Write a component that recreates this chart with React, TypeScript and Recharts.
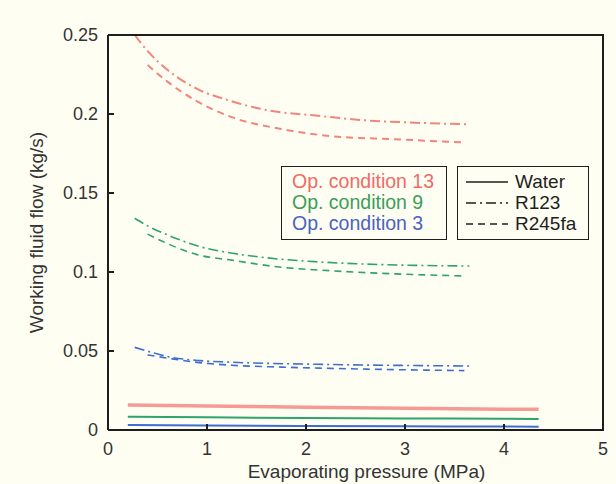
import { Line, LineChart, XAxis, YAxis } from "recharts";

// evaporating pressure (MPa) sampled per fluid
const P_WATER = [0.2, 1, 2, 3, 4, 4.35];
const P_R123 = [0.27, 0.42, 0.6, 0.93, 1.2, 1.6, 2.1, 2.6, 3.1, 3.65];
const P_R245FA = [0.4, 0.6, 0.9, 1.25, 1.75, 2.25, 2.9, 3.6];

// working fluid flow (kg/s)
const WATER_13 = [0.0158, 0.0152, 0.0144, 0.0137, 0.0132, 0.0131];
const WATER_9 = [0.0084, 0.008, 0.0076, 0.0073, 0.0071, 0.007];
const WATER_3 = [0.0032, 0.0028, 0.0025, 0.0023, 0.0022, 0.0021];

const R123_13 = [0.25, 0.2385, 0.228, 0.215, 0.209, 0.2025, 0.199, 0.196, 0.1945, 0.1935];
const R123_9 = [0.134, 0.1285, 0.1235, 0.116, 0.1125, 0.109, 0.1065, 0.105, 0.1042, 0.1038];
const R123_3 = [0.0523, 0.0495, 0.0465, 0.0439, 0.043, 0.0422, 0.0416, 0.0411, 0.0408, 0.0405];

const R245FA_13 = [0.231, 0.2205, 0.208, 0.198, 0.1905, 0.186, 0.184, 0.182];
const R245FA_9 = [0.124, 0.118, 0.111, 0.1075, 0.103, 0.1008, 0.0988, 0.0975];
const R245FA_3 = [0.0475, 0.0455, 0.0428, 0.041, 0.0398, 0.039, 0.0382, 0.0376];

const X_TICKS = [0, 1, 2, 3, 4, 5];
const Y_TICKS = [0, 0.05, 0.1, 0.15, 0.2, 0.25];

const CONDITIONS = ["Op. condition 13", "Op. condition 9", "Op. condition 3"];
const FLUIDS = ["Water", "R123", "R245fa"];

const RED = "#f3847d";
const GREEN = "#2ea36c";
const BLUE = "#3f6dd2";
const TEXT_COLORS = ["#f06a66", "#3a9e5a", "#4a62c4"];

const DASH_R123 = "10 4 2 4";
const DASH_R245FA = "7 5";
const DASHES = [undefined, DASH_R123, DASH_R245FA];

const FONT = "'Liberation Sans', Arial, sans-serif";
const INK = "#1e1e1e";
const LABEL = "#333";

const toRows = (xs: number[], ys: number[]) => xs.map((p, i) => ({ p, f: ys[i] }));

const series = [
  { id: "w13", data: toRows(P_WATER, WATER_13), color: "#f69b93", width: 3.5, dash: "0" },
  { id: "w9", data: toRows(P_WATER, WATER_9), color: GREEN, width: 2, dash: "0" },
  { id: "w3", data: toRows(P_WATER, WATER_3), color: BLUE, width: 2, dash: "0" },
  { id: "a13", data: toRows(P_R123, R123_13), color: RED, width: 2, dash: DASH_R123 },
  { id: "a9", data: toRows(P_R123, R123_9), color: GREEN, width: 1.6, dash: DASH_R123 },
  { id: "a3", data: toRows(P_R123, R123_3), color: BLUE, width: 1.6, dash: DASH_R123 },
  { id: "b13", data: toRows(P_R245FA, R245FA_13), color: RED, width: 2, dash: DASH_R245FA },
  { id: "b9", data: toRows(P_R245FA, R245FA_9), color: GREEN, width: 1.6, dash: DASH_R245FA },
  { id: "b3", data: toRows(P_R245FA, R245FA_3), color: BLUE, width: 1.6, dash: DASH_R245FA },
];

const tickFont = { fontSize: 18, fill: LABEL, fontFamily: FONT };

export default function App() {
  return (
    <div style={{ position: "absolute", left: 0, top: 0, width: 616, height: 484, background: "#fffef3" }}>
      <LineChart width={616} height={484} margin={{ top: 35, right: 13, bottom: 0, left: 0 }}>
        <XAxis
          dataKey="p"
          type="number"
          domain={[0, 5]}
          ticks={X_TICKS}
          height={54}
          stroke={INK}
          strokeWidth={2}
          tickSize={-6}
          tickMargin={18}
          tick={tickFont}
          label={{
            value: "Evaporating pressure (MPa)",
            position: "insideBottom",
            offset: 6,
            dx: 11,
            style: { fontSize: 19, fill: LABEL, fontFamily: FONT },
          }}
        />
        <YAxis
          type="number"
          domain={[0, 0.25]}
          ticks={Y_TICKS}
          width={108}
          stroke={INK}
          strokeWidth={2}
          tickSize={-6}
          tickMargin={16}
          tick={tickFont}
          label={{
            value: "Working fluid flow (kg/s)",
            angle: -90,
            position: "insideLeft",
            offset: 36,
            style: { fontSize: 19, fill: LABEL, fontFamily: FONT, textAnchor: "middle" },
          }}
        />
        {series.map((s) => (
          <Line
            key={s.id}
            data={s.data}
            dataKey="f"
            type="monotone"
            stroke={s.color}
            strokeWidth={s.width}
            strokeDasharray={s.dash}
            dot={false}
            activeDot={false}
            isAnimationActive={false}
          />
        ))}
      </LineChart>

      {/* top and right edges of the plot frame */}
      <div
        style={{
          position: "absolute",
          left: 108,
          top: 34,
          width: 496,
          height: 397,
          borderTop: `2px solid ${INK}`,
          borderRight: `2px solid ${INK}`,
          boxSizing: "border-box",
          pointerEvents: "none",
        }}
      />

      <div
        style={{
          position: "absolute",
          left: 281,
          top: 166,
          width: 166,
          height: 74,
          border: `1.5px solid ${INK}`,
          padding: "4px 0 0 10px",
          boxSizing: "border-box",
          fontFamily: FONT,
        }}
      >
        {CONDITIONS.map((c, i) => (
          <div key={c} style={{ color: TEXT_COLORS[i], fontSize: 19.5, lineHeight: "21px" }}>
            {c}
          </div>
        ))}
      </div>

      <div
        style={{
          position: "absolute",
          left: 457,
          top: 166,
          width: 132,
          height: 74,
          border: `1.5px solid ${INK}`,
          padding: "4px 0 0 7px",
          boxSizing: "border-box",
          fontFamily: FONT,
        }}
      >
        {FLUIDS.map((f, i) => (
          <div
            key={f}
            style={{ display: "flex", alignItems: "center", height: 21, fontSize: 19, color: INK }}
          >
            <svg width={44} height={10} style={{ marginRight: 6 }}>
              <line x1={1} y1={5} x2={43} y2={5} stroke={INK} strokeWidth={1.5} strokeDasharray={DASHES[i]} />
            </svg>
            {f}
          </div>
        ))}
      </div>
    </div>
  );
}
